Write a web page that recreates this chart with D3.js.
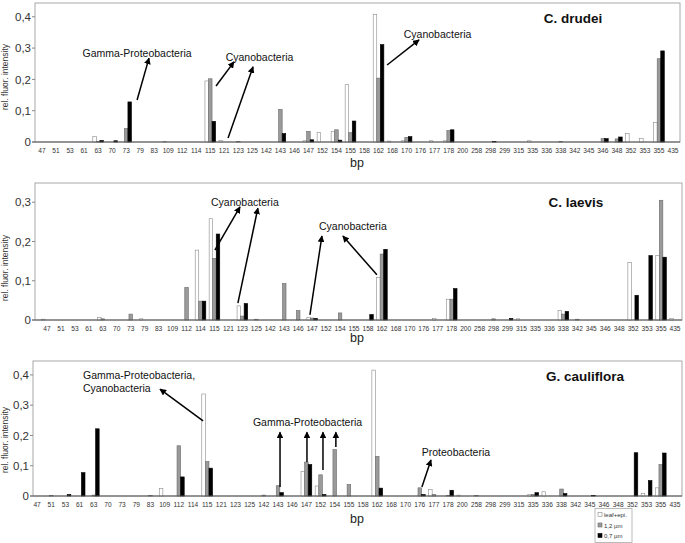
<!DOCTYPE html>
<html><head><meta charset="utf-8">
<script src="https://cdn.jsdelivr.net/npm/d3@7/dist/d3.min.js"></script>
<style>body{margin:0;background:#fff}svg{display:block;font-family:"Liberation Sans",Arial,sans-serif}</style>
</head><body>
<svg id="chart" width="685" height="543"></svg>
<script>
const categories = ["47","51","53","61","63","70","73","79","83","109","112","114","115","121","123","125","142","143","146","147","152","154","155","158","162","168","170","176","177","178","200","258","298","299","315","335","336","338","342","345","346","348","352","353","355","435"];
const seriesNames = ["leaf+epi.","1,2 µm","0,7 µm"];

const drudeiLeaf  = [0,0,0,0,0.018,0,0,0,0,0.002, 0,0,0.195,0.005,0,0,0,0,0,0.004, 0.03,0.034,0.183,0,0.408,0.003,0.004,0,0.004,0.004, 0,0,0,0,0,0.004,0,0,0,0, 0,0,0.027,0.011,0.062,0];
const drudeiGray  = [0,0,0,0,0.002,0,0.043,0,0,0, 0,0,0.202,0,0.002,0,0,0.104,0,0.034, 0,0.039,0.03,0,0.204,0,0.015,0,0,0.037, 0,0,0,0,0,0,0,0.002,0,0, 0.011,0.01,0,0,0.266,0];
const drudeiBlack = [0,0,0,0,0.005,0.004,0.128,0,0,0, 0,0,0.066,0,0,0,0,0.027,0,0.007, 0,0.006,0.067,0,0.311,0,0.017,0,0,0.039, 0,0,0.002,0,0,0,0,0,0,0, 0.011,0.016,0,0,0.291,0];

const laevisLeaf  = [0.002,0,0,0,0.006,0,0,0.003,0,0, 0,0.178,0.258,0,0.036,0,0,0,0,0.007, 0,0,0,0,0.108,0,0,0,0.004,0.053, 0,0,0,0,0.003,0,0,0.024,0,0, 0,0,0.147,0,0.164,0.004];
const laevisGray  = [0,0,0,0,0.003,0,0.015,0,0,0, 0.083,0.048,0.157,0,0.01,0.002,0,0.093,0.024,0.005, 0,0.018,0,0,0.168,0,0,0,0,0.053, 0,0,0.003,0,0,0,0,0.015,0.002,0, 0,0,0,0,0.305,0];
const laevisBlack = [0,0,0,0,0,0,0,0,0,0, 0,0.048,0.219,0,0.042,0,0,0,0,0.004, 0,0,0,0.014,0.18,0,0,0,0,0.08, 0,0,0,0.004,0,0,0,0.022,0,0, 0,0,0.063,0.164,0.16,0];

const caulLeaf  = [0,0,0,0,0,0,0,0,0,0.025, 0,0,0.337,0,0,0,0,0,0,0.081, 0.033,0,0,0,0.416,0,0,0,0.021,0, 0.003,0,0,0,0,0.005,0.014,0,0,0, 0,0,0,0.009,0.027,0];
const caulGray  = [0,0.002,0,0,0.003,0,0,0,0.002,0, 0.166,0,0.114,0,0,0,0.003,0.034,0,0.112, 0.07,0.153,0.038,0,0.131,0,0,0.027,0.005,0.002, 0,0.001,0,0,0,0.005,0,0.023,0,0, 0,0,0,0,0.104,0];
const caulBlack = [0,0,0.005,0.077,0.222,0,0,0,0,0, 0.063,0,0.092,0,0,0,0,0.011,0,0.104, 0.005,0,0,0,0.026,0,0,0.005,0,0.019, 0,0,0,0,0,0.011,0,0.008,0,0.002, 0,0,0.143,0.051,0.142,0];

const titles = ["C. drudei","C. laevis","G. cauliflora"];
const yTicks1 = [0,0.1,0.2,0.3,0.4];
const yTicks2 = [0,0.1,0.2,0.3];
const yTicks3 = [0,0.1,0.2,0.3,0.4];

// annotations in data units: x = category index (+fraction), y = value
const notes1 = [
  {text:["Gamma-Proteobacteria"], x:6.78, y:0.284, anchor:"middle"},
  {text:["Cyanobacteria"], x:15.51, y:0.272, anchor:"middle"},
  {text:["Cyanobacteria"], x:28.21, y:0.345, anchor:"middle"}
];
const arrows1 = [
  {x0:6.78,y0:0.134,x1:7.63,y1:0.268},
  {x0:12.41,y0:0.179,x1:13.69,y1:0.256},
  {x0:13.27,y0:0.013,x1:15.05,y1:0.240},
  {x0:24.61,y0:0.246,x1:26.89,y1:0.326}
];
const notes2 = [
  {text:["Cyanobacteria"], x:14.18, y:0.300, anchor:"middle"},
  {text:["Cyanobacteria"], x:21.92, y:0.239, anchor:"middle"}
];
const arrows2 = [
  {x0:12.03,y0:0.178,x1:13.83,y1:0.288},
  {x0:13.68,y0:0.043,x1:15.11,y1:0.285},
  {x0:18.84,y0:0.013,x1:19.70,y1:0.214},
  {x0:23.64,y0:0.115,x1:21.20,y1:0.214}
];
const notes3 = [
  {text:["Gamma-Proteobacteria,","Cyanobacteria"], x:3.24, y:0.399, anchor:"start"},
  {text:["Gamma-Proteobacteria"], x:15.23, y:0.244, anchor:"start"},
  {text:["Proteobacteria"], x:29.55, y:0.145, anchor:"middle"}
];
const arrows3 = [
  {x0:11.71,y0:0.248,x1:8.67,y1:0.353},
  {x0:17.14,y0:0.03,x1:17.14,y1:0.211},
  {x0:19.04,y0:0.112,x1:19.04,y1:0.211},
  {x0:20.17,y0:0.086,x1:20.17,y1:0.211},
  {x0:21.08,y0:0.162,x1:21.08,y1:0.211},
  {x0:27.15,y0:0.03,x1:27.79,y1:0.119}
];

const panels = [
  {title:titles[0], series:[drudeiLeaf,drudeiGray,drudeiBlack], yTicks:yTicks1, notes:notes1, arrows:arrows1,
   yMax:0.444, top:3, zero:142, xL:35, xR:680, fL:35, fR:680, titleX:573, titleY:23, bpY:167, ylabY:77},
  {title:titles[1], series:[laevisLeaf,laevisGray,laevisBlack], yTicks:yTicks2, notes:notes2, arrows:arrows2,
   yMax:0.349, top:183, zero:320, xL:40, xR:682, fL:35, fR:682, titleX:576, titleY:207, bpY:342, ylabY:268},
  {title:titles[2], series:[caulLeaf,caulGray,caulBlack], yTicks:yTicks3, notes:notes3, arrows:arrows3,
   yMax:0.446, top:361, zero:496, xL:30, xR:682, fL:33, fR:682, titleX:585, titleY:381, bpY:523, ylabY:440}
];

const fills = ["#ffffff","#9a9a9a","#000000"];
const strokes = ["#8a8a8a","#6a6a6a","#000000"];
const svg = d3.select("#chart");

const defs = svg.append("defs");
defs.append("marker").attr("id","ah").attr("viewBox","0 0 10 10").attr("refX",9).attr("refY",5)
  .attr("markerWidth",4.5).attr("markerHeight",4.5).attr("orient","auto")
  .append("path").attr("d","M0,0L10,5L0,10z").attr("fill","#000");

const fmt = v => v === 0 ? "0" : d3.format(".1f")(v).replace(".", ",");

panels.forEach(p => {
  const g = svg.append("g");
  const x = d3.scaleBand().domain(categories).range([p.xL, p.xR]).paddingInner(0.24).paddingOuter(0.12);
  const xs = d3.scaleBand().domain([0,1,2]).range([0, x.bandwidth()]);
  const y = d3.scaleLinear().domain([0, p.yMax]).range([p.zero, p.top]);
  const xi = v => p.xL + x.step() * (v + 0.5);

  g.append("rect").attr("x", p.fL).attr("y", p.top).attr("width", p.fR - p.fL).attr("height", p.zero - p.top)
    .attr("fill","none").attr("stroke","#a8a8a8").attr("stroke-width",1);

  p.series.forEach((vals, s) => {
    g.append("g").selectAll("rect").data(vals.map((v,i)=>({c:categories[i], v})).filter(d=>d.v>0))
      .join("rect")
      .attr("x", d => x(d.c) + xs(s))
      .attr("y", d => y(d.v))
      .attr("width", xs.bandwidth())
      .attr("height", d => y(0) - y(d.v))
      .attr("fill", fills[s]).attr("stroke", strokes[s]).attr("stroke-width", 0.6);
  });

  g.append("line").attr("x1", p.fL - 3).attr("x2", p.fR).attr("y1", y(0)).attr("y2", y(0))
    .attr("stroke","#555").attr("stroke-width",1);

  const ya = g.append("g");
  p.yTicks.forEach(t => {
    ya.append("line").attr("x1", p.fL - 3).attr("x2", p.fL).attr("y1", y(t)).attr("y2", y(t)).attr("stroke","#888");
    ya.append("text").attr("x", p.fL - 4).attr("y", y(t)).attr("dy","0.36em").attr("text-anchor","end")
      .attr("font-size", 11.5).attr("fill","#333").text(fmt(t));
  });

  g.append("g").selectAll("text").data(categories).join("text")
    .attr("x", d => x(d) + x.bandwidth()/2).attr("y", y(0) + 10.5)
    .attr("text-anchor","middle").attr("font-size", 6.6).attr("fill","#333").text(d => d);

  g.append("text").attr("x", 357).attr("y", p.bpY).attr("text-anchor","middle")
    .attr("font-size", 12.5).attr("fill","#222").text("bp");

  g.append("text").attr("transform", `translate(8,${p.ylabY}) rotate(-90)`).attr("text-anchor","middle")
    .attr("font-size", 8.5).attr("fill","#333").text("rel. fluor. intensity");

  g.append("text").attr("x", p.titleX).attr("y", p.titleY).attr("text-anchor","middle")
    .attr("font-size", 13.5).attr("font-weight","bold").attr("fill","#111").text(p.title);

  p.notes.forEach(n => {
    const t = g.append("text").attr("x", xi(n.x)).attr("y", y(n.y)).attr("text-anchor", n.anchor)
      .attr("font-size", 10.5).attr("fill","#111");
    n.text.forEach((line, k) => t.append("tspan").attr("x", xi(n.x)).attr("dy", k === 0 ? "0.35em" : "1.25em").text(line));
  });
  p.arrows.forEach(a => {
    g.append("line").attr("x1", xi(a.x0)).attr("y1", y(a.y0)).attr("x2", xi(a.x1)).attr("y2", y(a.y1))
      .attr("stroke","#000").attr("stroke-width",1.5).attr("marker-end","url(#ah)");
  });
});

const lg = svg.append("g");
lg.append("rect").attr("x",595).attr("y",508.5).attr("width",37).attr("height",34).attr("fill","#fff").attr("stroke","#aaa").attr("stroke-width",0.8);
seriesNames.forEach((nm,i) => {
  const yy = 515 + i*10.5;
  lg.append("rect").attr("x",598).attr("y",yy-2.5).attr("width",4).attr("height",4).attr("fill",fills[i]).attr("stroke",strokes[i]).attr("stroke-width",0.6);
  lg.append("text").attr("x",604).attr("y",yy).attr("dy","0.35em").attr("font-size",6).attr("fill","#333").text(nm);
});
</script>
</body></html>
